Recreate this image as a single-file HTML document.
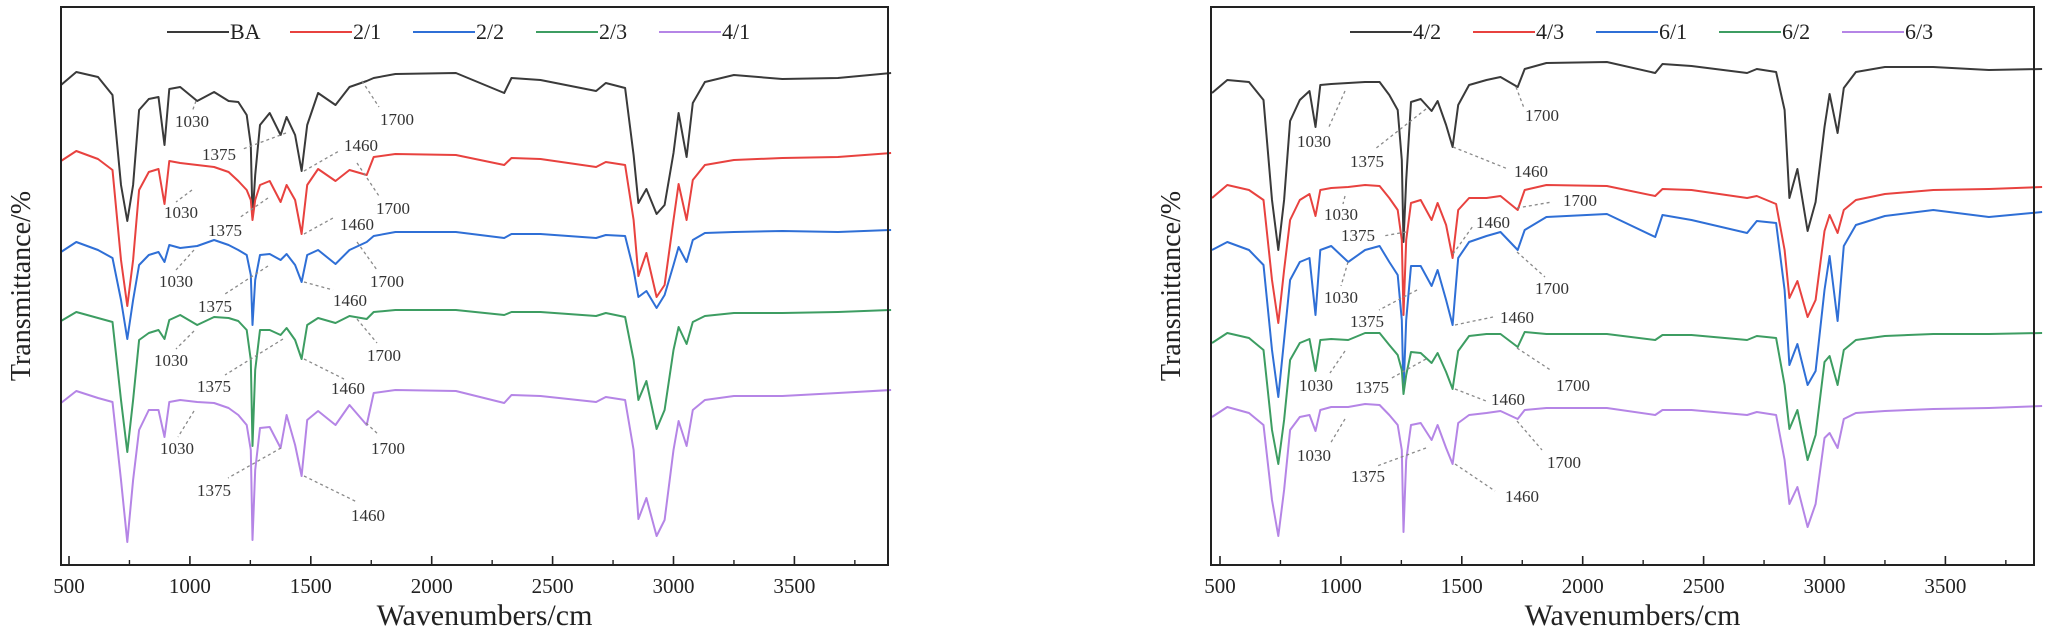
<!DOCTYPE html>
<html><head><meta charset="utf-8"><style>
html,body{margin:0;padding:0;background:#fff;}
svg{display:block;font-family:"Liberation Serif",serif;}
</style></head><body>
<svg id="fig" width="2052" height="632" viewBox="0 0 2052 632" xmlns="http://www.w3.org/2000/svg"></svg>
<script>
// Shared wavenumber grid (cm-1)
const wavenumbers = [467,530,620,680,715,741,765,790,830,870,895,915,960,1030,1100,1160,1200,1235,1252,1259,1270,1290,1330,1375,1400,1435,1462,1485,1530,1602,1660,1731,1760,1850,2100,2300,2330,2450,2680,2720,2800,2835,2855,2888,2930,2963,3000,3021,3054,3080,3130,3250,3450,3680,3900];
const xTicks = [500,1000,1500,2000,2500,3000,3500];
const xMinor = [750,1250,1750,2250,2750,3250,3750];
// Left panel series (transmittance, arbitrary offset units)
const leftNames = ["BA","2/1","2/2","2/3","4/1"];
const sBA = [480,493,488,470,380,344,380,455,466,468,420,476,478,464,473,464,463,450,420,347,390,440,452,430,448,430,394,440,472,460,478,484,487,491,492,472,487,485,474,482,477,410,362,376,351,360,412,452,408,462,483,490,486,487,492];
const s21 = [404,414,406,395,305,259,305,375,393,396,361,404,402,400,398,393,384,375,365,345,365,380,384,363,380,365,331,380,396,384,395,390,408,411,410,400,407,406,398,403,400,345,289,312,268,280,345,381,345,385,400,405,407,408,412];
const s22 = [313,323,315,307,265,226,265,300,310,313,303,320,317,319,325,320,315,310,290,240,285,310,311,305,311,300,283,310,315,301,315,323,329,333,333,327,331,331,327,330,329,295,268,274,257,270,300,318,303,325,332,333,334,333,335];
const s23 = [244,253,247,243,165,113,165,225,232,235,226,245,250,240,248,247,244,235,205,119,195,235,235,230,237,225,206,240,247,242,249,246,253,255,255,250,253,253,249,252,248,205,165,184,136,155,215,238,221,243,249,252,252,253,255];
const s41 = [162,174,167,163,85,23,85,135,155,155,128,163,165,163,162,157,150,140,115,25,95,137,138,117,150,120,89,145,154,140,160,140,172,175,174,162,170,169,163,168,165,115,46,67,29,45,115,144,119,155,165,169,169,172,175];
// Right panel series
const rightNames = ["4/2","4/3","6/1","6/2","6/3"];
const s42 = [472,485,483,465,365,315,365,444,465,474,438,480,481,482,483,483,470,455,405,323,385,463,466,454,464,440,418,460,480,485,488,478,496,502,503,492,501,499,492,496,493,455,367,396,334,363,438,471,432,477,493,498,498,495,496];
const s43 = [367,380,375,365,285,242,295,345,365,371,349,375,377,378,380,379,367,355,325,250,325,362,365,345,362,340,307,355,367,367,369,355,375,380,379,369,376,375,367,369,361,315,267,284,248,265,334,350,332,355,365,371,375,376,378];
const s61 = [315,323,315,300,215,168,225,285,303,307,250,315,319,303,315,319,303,290,245,174,245,299,299,279,295,265,240,307,323,329,333,315,335,348,351,328,350,345,332,344,342,275,200,221,180,194,275,309,244,319,340,349,355,348,353];
const s62 = [222,232,227,215,135,101,145,205,222,226,194,225,226,225,232,232,220,210,195,171,190,213,212,202,212,193,176,214,229,231,231,218,233,231,231,225,230,230,225,229,227,180,136,155,105,130,203,209,180,215,225,229,231,231,232];
const s63 = [148,158,152,140,65,29,75,135,148,150,134,155,158,158,161,160,150,140,115,33,105,140,142,125,140,117,101,142,150,152,154,146,155,157,157,150,155,155,150,153,150,105,61,78,38,61,127,132,117,146,152,154,156,157,159];

const colors = ["#3a3a3a","#e8423f","#2f6fd6","#3d9d62","#b585e6"];
const NS = "http://www.w3.org/2000/svg";
const svg = document.getElementById('fig');
function mk(tag, attrs, parent){const e=document.createElementNS(NS,tag);for(const k in attrs)e.setAttribute(k,attrs[k]);(parent||svg).appendChild(e);return e;}

function panel(px0, px1, x500, series, names, legendX, ylabX, annots, pname){
  const top=7, bot=565;
  const g = mk('g',{});
  
  
  const xS = w => x500 + (w-500)*0.2418;
  const yS = v => bot - v;
  // series
  series.forEach((vals,i)=>{
    const pts = wavenumbers.map((w,j)=>xS(w).toFixed(1)+','+yS(vals[j]).toFixed(1)).join(' ');
    const pl = mk('polyline',{points:pts,fill:'none',stroke:colors[i],'stroke-width':2,'stroke-linejoin':'round'},g);
    
    
  });
  // annotations
  annots.forEach(a=>{
    const ln = mk('line',{x1:a[3],y1:a[4],x2:a[5],y2:a[6],stroke:'#8a8a8a','stroke-width':1.3,'stroke-dasharray':'3,3'},g);
    
    
    const t = mk('text',{x:a[1],y:a[2]+6,'font-size':17,'text-anchor':'middle',fill:'#333'},g);
    t.textContent = a[0];
    
    
  });
  // frame
  const fr = mk('rect',{x:px0,y:top,width:px1-px0,height:bot-top,fill:'none',stroke:'#222','stroke-width':2},g);
  
  
  xTicks.forEach(w=>{
    const x=xS(w);
    const tk = mk('line',{x1:x,y1:bot,x2:x,y2:bot-9,stroke:'#222','stroke-width':1.6},g);
    
    
    const tl = mk('text',{x:x,y:bot+28,'font-size':21,'text-anchor':'middle',fill:'#222'},g);
    tl.textContent = w;
    
    
  });
  xMinor.forEach(w=>{
    const x=xS(w);
    const tk = mk('line',{x1:x,y1:bot,x2:x,y2:bot-5,stroke:'#222','stroke-width':1.4},g);
    
    
  });
  const xt = mk('text',{x:(px0+px1)/2+10,y:bot+60,'font-size':30,'text-anchor':'middle',fill:'#222'},g);
  xt.textContent='Wavenumbers/cm';
  
  
  const yt = mk('text',{x:0,y:0,'font-size':28,'text-anchor':'middle',fill:'#222',transform:'translate('+(ylabX+10)+',286) rotate(-90)'},g);
  yt.textContent='Transmittance/%';
  
  
  // legend
  names.forEach((n,i)=>{
    const lx = legendX + i*123;
    const le = mk('g',{},g);
    
    
    mk('line',{x1:lx,y1:32,x2:lx+62,y2:32,stroke:colors[i],'stroke-width':2},le);
    const tt = mk('text',{x:lx+63,y:39,'font-size':22,fill:'#222'},le);
    tt.textContent=n;
  });
}

const leftAnn = [
 ["1030",192,121,196,101,192,112],["1375",219,154,286,133,243,149],["1700",397,119,362,81,379,107],["1460",361,145,304,171,339,151],
 ["1030",181,212,192,190,176,202],["1375",225,230,268,198,239,218],["1460",357,224,304,234,333,218],["1700",393,208,357,163,379,196],
 ["1030",176,281,194,250,176,270],["1375",215,306,268,266,225,294],["1460",350,300,304,282,333,290],["1700",387,281,357,242,377,270],
 ["1030",171,360,194,331,176,349],["1375",214,386,283,339,225,375],["1460",348,388,304,359,344,379],["1700",384,355,357,319,377,343],
 ["1030",177,448,194,411,178,437],["1375",214,490,281,448,228,478],["1460",368,515,304,476,357,502],["1700",388,448,366,423,379,435]
];
const rightAnn = [
 ["1030",1314,141,1345,91,1328,129],["1375",1367,161,1426,109,1375,149],["1460",1531,171,1453,147,1508,169],["1700",1542,115,1516,87,1524,108],
 ["1030",1341,214,1345,196,1343,204],["1375",1358,235,1406,232,1383,236],["1460",1493,222,1453,254,1473,226],["1700",1580,200,1517,208,1552,202],
 ["1030",1341,297,1348,262,1341,286],["1375",1367,321,1417,290,1379,310],["1460",1517,317,1455,325,1493,317],["1700",1552,288,1517,252,1545,277],
 ["1030",1316,385,1345,351,1330,373],["1375",1372,387,1426,359,1390,379],["1460",1508,399,1455,389,1486,401],["1700",1573,385,1517,348,1552,371],
 ["1030",1314,455,1345,419,1330,444],["1375",1368,476,1426,448,1377,466],["1460",1522,496,1455,464,1495,491],["1700",1564,462,1517,421,1542,450]
];
panel(61, 888, 69, [sBA,s21,s22,s23,s41], leftNames, 167, 20, leftAnn, 'left-panel');
panel(1211, 2034, 1220, [s42,s43,s61,s62,s63], rightNames, 1350, 1170, rightAnn, 'right-panel');
</script>
</body></html>
